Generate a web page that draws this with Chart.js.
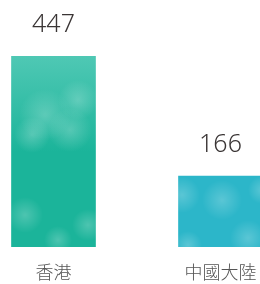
<!doctype html>
<html lang="zh-Hant">
<head>
<meta charset="UTF-8">
<title>香港 / 中國大陸</title>
<style>
    html, body { margin: 0; padding: 0; background: #fff; overflow: hidden; }
    #wrap { position: absolute; left: -30px; top: 0; width: 334px; height: 284px; }
</style>
</head>
<body>

<div id="wrap">
    <canvas id="bar-chart" width="334" height="284"></canvas>
</div>

<script src="https://cdn.jsdelivr.net/npm/chart.js@4/dist/chart.umd.min.js"></script>
<script>
    const categories = ['香港', '中國大陸'];
    const values = [447, 166];
    const topColors = ['#4fc8b4', '#5ec8d8'];
    const bottomColors = ['#1bb49a', '#2cb6c9'];

    // soft cloudy texture for each bar
    function cloudFill(ctx, i, area) {
        const c = document.createElement('canvas');
        c.width = 334; c.height = 284;
        const g = c.getContext('2d');
        const grad = g.createLinearGradient(0, area.top, 0, area.bottom);
        grad.addColorStop(0, topColors[i]);
        grad.addColorStop(0.5, bottomColors[i]);
        grad.addColorStop(1, bottomColors[i]);
        g.fillStyle = grad;
        g.fillRect(0, 0, c.width, c.height);
        const puffs = [[75, 115, 26], [100, 130, 22], [62, 135, 18], [108, 100, 20], [55, 215, 18], [118, 225, 16],
                       [88, 240, 14], [212, 195, 18], [252, 200, 20], [278, 238, 18], [218, 245, 14], [292, 190, 14]];
        puffs.forEach(([x, y, r]) => {
            const rg = g.createRadialGradient(x, y, 0, x, y, r);
            rg.addColorStop(0, 'rgba(255,255,255,0.22)');
            rg.addColorStop(1, 'rgba(255,255,255,0)');
            g.fillStyle = rg;
            g.beginPath(); g.arc(x, y, r, 0, Math.PI * 2); g.fill();
        });
        return ctx.createPattern(c, 'no-repeat');
    }

    const valueLabels = {
        id: 'valueLabels',
        afterDatasetsDraw(chart) {
            const ctx = chart.ctx;
            const meta = chart.getDatasetMeta(0);
            ctx.save();
            ctx.font = '300 25px "Noto Sans", Lato, sans-serif';
            ctx.fillStyle = '#3a3535';
            ctx.textAlign = 'center';
            ctx.textBaseline = 'bottom';
            meta.data.forEach((bar, i) => {
                ctx.fillText(values[i], bar.x, bar.y - 19);
            });
            ctx.restore();
        }
    };

    new Chart(document.getElementById('bar-chart'), {
        type: 'bar',
        data: {
            labels: categories,
            datasets: [{
                data: values,
                backgroundColor: c => {
                    const area = c.chart.chartArea;
                    if (!area) return bottomColors[c.dataIndex];
                    return cloudFill(c.chart.ctx, c.dataIndex, area);
                },
                barThickness: 84,
                borderWidth: 0
            }]
        },
        options: {
            responsive: false,
            animation: false,
            layout: { padding: { top: 56, left: 0, right: 0, bottom: 0 } },
            plugins: { legend: { display: false }, tooltip: { enabled: false } },
            scales: {
                y: { display: false, min: 0, max: Math.max(...values) },
                x: {
                    grid: { display: false, drawTicks: false },
                    border: { display: false },
                    afterFit: s => { s.height = 37; },
                    ticks: {
                        padding: 14,
                        color: '#555',
                        font: { family: '"Noto Sans CJK TC", sans-serif', size: 18, weight: 300 }
                    }
                }
            }
        },
        plugins: [valueLabels]
    });
</script>
</body>
</html>
